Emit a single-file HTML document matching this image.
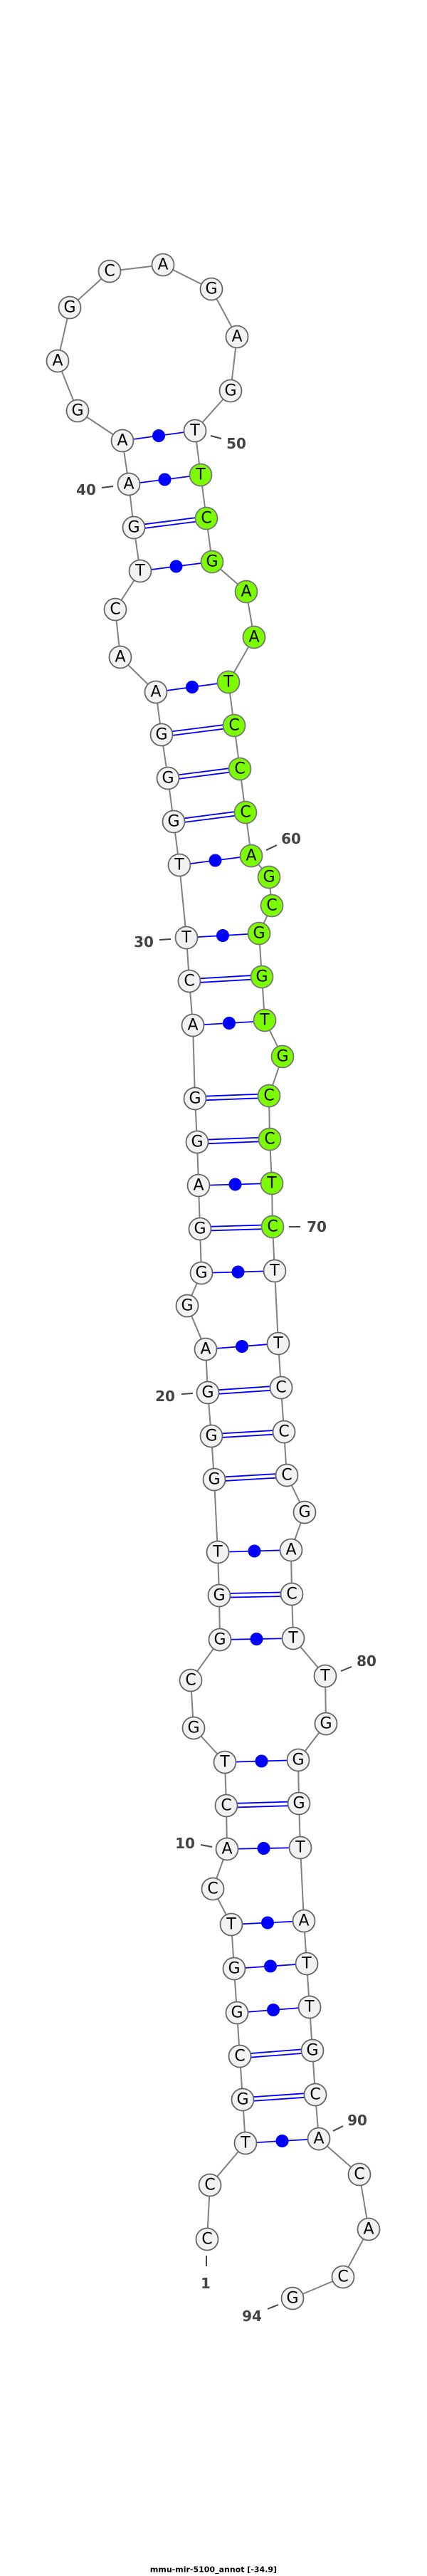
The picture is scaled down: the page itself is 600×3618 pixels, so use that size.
<!DOCTYPE html>
<html><head><meta charset="utf-8"><style>
html,body{margin:0;padding:0;background:#fff;}
svg{display:block;}
.n{fill:#f2f2f2;stroke:#666;stroke-width:1.8;}
.g{fill:#7cfc00;stroke:#777;stroke-width:1.8;}
.t{font-family:"DejaVu Sans","Liberation Sans",sans-serif;font-size:22px;text-anchor:middle;dominant-baseline:central;fill:#000;}
.l{font-family:"DejaVu Sans","Liberation Sans",sans-serif;font-size:20px;font-weight:bold;text-anchor:middle;dominant-baseline:central;fill:#444;}
.k{stroke:#444;stroke-width:2;}
</style></head><body>
<svg width="600" height="3618" viewBox="0 0 600 3618" xmlns="http://www.w3.org/2000/svg">
<defs>
<path id="dbl" d="M341,2949L443,2942M337,2888L439,2880M318,2536L420,2533M308,2241L410,2239M301,2078L403,2072M297,2017L399,2011M292,1956L395,1949M281,1726L383,1723M277,1604L379,1600M274,1543L378,1539M266,1378L368,1372M244,1154L345,1141M236,1093L337,1080M227,1032L329,1019M188,741L290,728"/>
</defs>
<polyline fill="none" stroke="#808080" stroke-width="2" points="291,3145 295,3069 345,3010 341,2949 337,2888 333,2827 329,2765 325,2703 299,2653 319,2597 318,2536 316,2475 272,2427 268,2360 309,2303 308,2241 306,2180 301,2078 297,2017 292,1956 289,1895 263,1834 283,1788 281,1726 279,1665 277,1604 274,1543 271,1440 266,1378 262,1317 252,1215 244,1154 236,1093 227,1032 219,972 169,923 162,856 197,802 188,741 181,680 172,619 109,577 81,507 98,432 154,381 229,372 297,406 333,473 324,549 274,605 282,667 290,728 298,789 346,831 357,895 321,958 329,1019 337,1080 345,1141 353,1202 378,1232 382,1272 364,1311 368,1372 372,1433 397,1484 378,1539 379,1600 382,1662 383,1723 386,1785 391,1887 395,1949 399,2011 403,2072 428,2124 409,2177 410,2239 412,2301 457,2354 458,2421 419,2472 420,2533 422,2595 427,2698 431,2758 435,2819 439,2880 443,2942 448,3004 505,3054 518,3131 482,3198 411,3228"/>
<g stroke="#0000ff" stroke-width="1.8" fill="none">
<use href="#dbl" transform="translate(0,-2.8)"/>
<use href="#dbl" transform="translate(0,2.8)"/>
<path d="M345,3010L448,3004M333,2827L435,2819M329,2765L431,2758M325,2703L427,2698M319,2597L422,2595M316,2475L419,2472M309,2303L412,2301M306,2180L409,2177M289,1895L391,1887M283,1788L386,1785M279,1665L382,1662M271,1440L373,1434M262,1317L364,1311M252,1215L353,1202M219,972L321,958M197,802L298,789M181,680L282,667M172,619L274,605"/>
</g>
<g fill="#0000ff">
<circle cx="396.5" cy="3007" r="9"/><circle cx="384" cy="2823" r="9"/><circle cx="380" cy="2761.5" r="9"/><circle cx="376" cy="2700.5" r="9"/><circle cx="370.5" cy="2596" r="9"/><circle cx="367.5" cy="2473.5" r="9"/><circle cx="360.5" cy="2302" r="9"/><circle cx="357.5" cy="2178.5" r="9"/><circle cx="340" cy="1891" r="9"/><circle cx="334.5" cy="1786.5" r="9"/><circle cx="330.5" cy="1663.5" r="9"/><circle cx="322" cy="1437" r="9"/><circle cx="313" cy="1314" r="9"/><circle cx="302.5" cy="1208.5" r="9"/><circle cx="270" cy="965" r="9"/><circle cx="247.5" cy="795.5" r="9"/><circle cx="231.5" cy="673.5" r="9"/><circle cx="223" cy="612" r="9"/>
</g>
<g>
<circle class="n" cx="291" cy="3145" r="15.5"/><text class="t" x="291" y="3145">C</text>
<circle class="n" cx="295" cy="3069" r="15.5"/><text class="t" x="295" y="3069">C</text>
<circle class="n" cx="345" cy="3010" r="15.5"/><text class="t" x="345" y="3010">T</text>
<circle class="n" cx="341" cy="2949" r="15.5"/><text class="t" x="341" y="2949">G</text>
<circle class="n" cx="337" cy="2888" r="15.5"/><text class="t" x="337" y="2888">C</text>
<circle class="n" cx="333" cy="2827" r="15.5"/><text class="t" x="333" y="2827">G</text>
<circle class="n" cx="329" cy="2765" r="15.5"/><text class="t" x="329" y="2765">G</text>
<circle class="n" cx="325" cy="2703" r="15.5"/><text class="t" x="325" y="2703">T</text>
<circle class="n" cx="299" cy="2653" r="15.5"/><text class="t" x="299" y="2653">C</text>
<circle class="n" cx="319" cy="2597" r="15.5"/><text class="t" x="319" y="2597">A</text>
<circle class="n" cx="318" cy="2536" r="15.5"/><text class="t" x="318" y="2536">C</text>
<circle class="n" cx="316" cy="2475" r="15.5"/><text class="t" x="316" y="2475">T</text>
<circle class="n" cx="272" cy="2427" r="15.5"/><text class="t" x="272" y="2427">G</text>
<circle class="n" cx="268" cy="2360" r="15.5"/><text class="t" x="268" y="2360">C</text>
<circle class="n" cx="309" cy="2303" r="15.5"/><text class="t" x="309" y="2303">G</text>
<circle class="n" cx="308" cy="2241" r="15.5"/><text class="t" x="308" y="2241">G</text>
<circle class="n" cx="306" cy="2180" r="15.5"/><text class="t" x="306" y="2180">T</text>
<circle class="n" cx="301" cy="2078" r="15.5"/><text class="t" x="301" y="2078">G</text>
<circle class="n" cx="297" cy="2017" r="15.5"/><text class="t" x="297" y="2017">G</text>
<circle class="n" cx="292" cy="1956" r="15.5"/><text class="t" x="292" y="1956">G</text>
<circle class="n" cx="289" cy="1895" r="15.5"/><text class="t" x="289" y="1895">A</text>
<circle class="n" cx="263" cy="1834" r="15.5"/><text class="t" x="263" y="1834">G</text>
<circle class="n" cx="283" cy="1788" r="15.5"/><text class="t" x="283" y="1788">G</text>
<circle class="n" cx="281" cy="1726" r="15.5"/><text class="t" x="281" y="1726">G</text>
<circle class="n" cx="279" cy="1665" r="15.5"/><text class="t" x="279" y="1665">A</text>
<circle class="n" cx="277" cy="1604" r="15.5"/><text class="t" x="277" y="1604">G</text>
<circle class="n" cx="274" cy="1543" r="15.5"/><text class="t" x="274" y="1543">G</text>
<circle class="n" cx="271" cy="1440" r="15.5"/><text class="t" x="271" y="1440">A</text>
<circle class="n" cx="266" cy="1378" r="15.5"/><text class="t" x="266" y="1378">C</text>
<circle class="n" cx="262" cy="1317" r="15.5"/><text class="t" x="262" y="1317">T</text>
<circle class="n" cx="252" cy="1215" r="15.5"/><text class="t" x="252" y="1215">T</text>
<circle class="n" cx="244" cy="1154" r="15.5"/><text class="t" x="244" y="1154">G</text>
<circle class="n" cx="236" cy="1093" r="15.5"/><text class="t" x="236" y="1093">G</text>
<circle class="n" cx="227" cy="1032" r="15.5"/><text class="t" x="227" y="1032">G</text>
<circle class="n" cx="219" cy="972" r="15.5"/><text class="t" x="219" y="972">A</text>
<circle class="n" cx="169" cy="923" r="15.5"/><text class="t" x="169" y="923">A</text>
<circle class="n" cx="162" cy="856" r="15.5"/><text class="t" x="162" y="856">C</text>
<circle class="n" cx="197" cy="802" r="15.5"/><text class="t" x="197" y="802">T</text>
<circle class="n" cx="188" cy="741" r="15.5"/><text class="t" x="188" y="741">G</text>
<circle class="n" cx="181" cy="680" r="15.5"/><text class="t" x="181" y="680">A</text>
<circle class="n" cx="172" cy="619" r="15.5"/><text class="t" x="172" y="619">A</text>
<circle class="n" cx="109" cy="577" r="15.5"/><text class="t" x="109" y="577">G</text>
<circle class="n" cx="81" cy="507" r="15.5"/><text class="t" x="81" y="507">A</text>
<circle class="n" cx="98" cy="432" r="15.5"/><text class="t" x="98" y="432">G</text>
<circle class="n" cx="154" cy="381" r="15.5"/><text class="t" x="154" y="381">C</text>
<circle class="n" cx="229" cy="372" r="15.5"/><text class="t" x="229" y="372">A</text>
<circle class="n" cx="297" cy="406" r="15.5"/><text class="t" x="297" y="406">G</text>
<circle class="n" cx="333" cy="473" r="15.5"/><text class="t" x="333" y="473">A</text>
<circle class="n" cx="324" cy="549" r="15.5"/><text class="t" x="324" y="549">G</text>
<circle class="n" cx="274" cy="605" r="15.5"/><text class="t" x="274" y="605">T</text>
<circle class="g" cx="282" cy="667" r="15.5"/><text class="t" x="282" y="667">T</text>
<circle class="g" cx="290" cy="728" r="15.5"/><text class="t" x="290" y="728">C</text>
<circle class="g" cx="298" cy="789" r="15.5"/><text class="t" x="298" y="789">G</text>
<circle class="g" cx="346" cy="831" r="15.5"/><text class="t" x="346" y="831">A</text>
<circle class="g" cx="357" cy="895" r="15.5"/><text class="t" x="357" y="895">A</text>
<circle class="g" cx="321" cy="958" r="15.5"/><text class="t" x="321" y="958">T</text>
<circle class="g" cx="329" cy="1019" r="15.5"/><text class="t" x="329" y="1019">C</text>
<circle class="g" cx="337" cy="1080" r="15.5"/><text class="t" x="337" y="1080">C</text>
<circle class="g" cx="345" cy="1141" r="15.5"/><text class="t" x="345" y="1141">C</text>
<circle class="g" cx="353" cy="1202" r="15.5"/><text class="t" x="353" y="1202">A</text>
<circle class="g" cx="378" cy="1232" r="15.5"/><text class="t" x="378" y="1232">G</text>
<circle class="g" cx="382" cy="1272" r="15.5"/><text class="t" x="382" y="1272">C</text>
<circle class="g" cx="364" cy="1311" r="15.5"/><text class="t" x="364" y="1311">G</text>
<circle class="g" cx="368" cy="1372" r="15.5"/><text class="t" x="368" y="1372">G</text>
<circle class="g" cx="372" cy="1433" r="15.5"/><text class="t" x="372" y="1433">T</text>
<circle class="g" cx="397" cy="1484" r="15.5"/><text class="t" x="397" y="1484">G</text>
<circle class="g" cx="378" cy="1539" r="15.5"/><text class="t" x="378" y="1539">C</text>
<circle class="g" cx="379" cy="1600" r="15.5"/><text class="t" x="379" y="1600">C</text>
<circle class="g" cx="382" cy="1662" r="15.5"/><text class="t" x="382" y="1662">T</text>
<circle class="g" cx="383" cy="1723" r="15.5"/><text class="t" x="383" y="1723">C</text>
<circle class="n" cx="386" cy="1785" r="15.5"/><text class="t" x="386" y="1785">T</text>
<circle class="n" cx="391" cy="1887" r="15.5"/><text class="t" x="391" y="1887">T</text>
<circle class="n" cx="395" cy="1949" r="15.5"/><text class="t" x="395" y="1949">C</text>
<circle class="n" cx="399" cy="2011" r="15.5"/><text class="t" x="399" y="2011">C</text>
<circle class="n" cx="403" cy="2072" r="15.5"/><text class="t" x="403" y="2072">C</text>
<circle class="n" cx="428" cy="2124" r="15.5"/><text class="t" x="428" y="2124">G</text>
<circle class="n" cx="409" cy="2177" r="15.5"/><text class="t" x="409" y="2177">A</text>
<circle class="n" cx="410" cy="2239" r="15.5"/><text class="t" x="410" y="2239">C</text>
<circle class="n" cx="412" cy="2301" r="15.5"/><text class="t" x="412" y="2301">T</text>
<circle class="n" cx="457" cy="2354" r="15.5"/><text class="t" x="457" y="2354">T</text>
<circle class="n" cx="458" cy="2421" r="15.5"/><text class="t" x="458" y="2421">G</text>
<circle class="n" cx="419" cy="2472" r="15.5"/><text class="t" x="419" y="2472">G</text>
<circle class="n" cx="420" cy="2533" r="15.5"/><text class="t" x="420" y="2533">G</text>
<circle class="n" cx="422" cy="2595" r="15.5"/><text class="t" x="422" y="2595">T</text>
<circle class="n" cx="427" cy="2698" r="15.5"/><text class="t" x="427" y="2698">A</text>
<circle class="n" cx="431" cy="2758" r="15.5"/><text class="t" x="431" y="2758">T</text>
<circle class="n" cx="435" cy="2819" r="15.5"/><text class="t" x="435" y="2819">T</text>
<circle class="n" cx="439" cy="2880" r="15.5"/><text class="t" x="439" y="2880">G</text>
<circle class="n" cx="443" cy="2942" r="15.5"/><text class="t" x="443" y="2942">C</text>
<circle class="n" cx="448" cy="3004" r="15.5"/><text class="t" x="448" y="3004">A</text>
<circle class="n" cx="505" cy="3054" r="15.5"/><text class="t" x="505" y="3054">C</text>
<circle class="n" cx="518" cy="3131" r="15.5"/><text class="t" x="518" y="3131">A</text>
<circle class="n" cx="482" cy="3198" r="15.5"/><text class="t" x="482" y="3198">C</text>
<circle class="n" cx="411" cy="3228" r="15.5"/><text class="t" x="411" y="3228">G</text>
</g>
<g>
<line class="k" x1="290" y1="3168" x2="290" y2="3183"/><text class="l" x="289" y="3207">1</text>
<line class="k" x1="282" y1="2591" x2="298" y2="2594"/><text class="l" x="260" y="2589">10</text>
<line class="k" x1="255" y1="1958" x2="271" y2="1957"/><text class="l" x="232" y="1961">20</text>
<line class="k" x1="224" y1="1320" x2="240" y2="1319"/><text class="l" x="202" y="1323">30</text>
<line class="k" x1="143" y1="685" x2="159" y2="683"/><text class="l" x="121" y="688">40</text>
<line class="k" x1="296" y1="612" x2="311" y2="616"/><text class="l" x="332" y="623">50</text>
<line class="k" x1="374" y1="1194" x2="389" y2="1187"/><text class="l" x="409" y="1178">60</text>
<line class="k" x1="406" y1="1723" x2="422" y2="1723"/><text class="l" x="445" y="1723">70</text>
<line class="k" x1="479" y1="2347" x2="494" y2="2341"/><text class="l" x="515" y="2333">80</text>
<line class="k" x1="468" y1="2993" x2="482" y2="2986"/><text class="l" x="502" y="2978">90</text>
<line class="k" x1="376" y1="3243" x2="391" y2="3237"/><text class="l" x="354" y="3253">94</text>
</g>
<text x="300" y="3609" text-anchor="middle" dominant-baseline="central" style="font-family:'DejaVu Sans','Liberation Sans',sans-serif;font-size:11px;font-weight:bold;fill:#000;">mmu-mir-5100_annot [-34.9]</text>
</svg>
</body></html>
